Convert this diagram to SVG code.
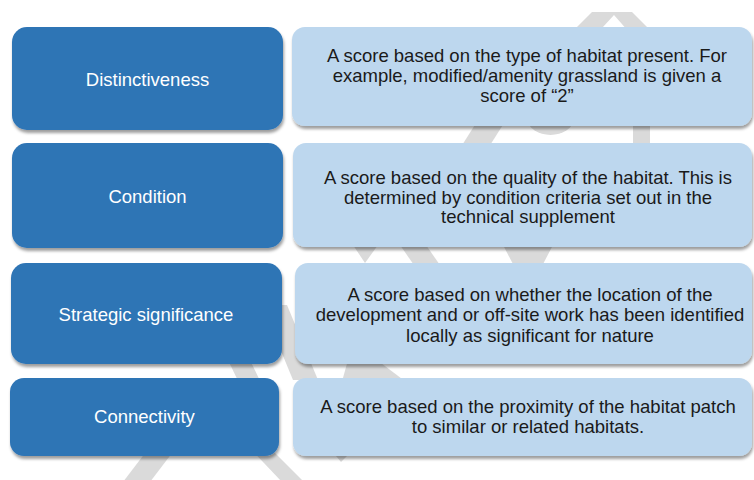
<svg xmlns="http://www.w3.org/2000/svg" width="754" height="480" viewBox="0 0 754 480">
  <defs>
    <filter id="sh" x="-5%" y="-10%" width="110%" height="130%">
      <feDropShadow dx="1" dy="3" stdDeviation="1.6" flood-color="#000" flood-opacity="0.38"/>
    </filter>
  </defs>
  <style>
    .wm { fill: #dadada; }
    .dark { fill: #2E74B5; filter: url(#sh); }
    .light { fill: #BDD7EE; filter: url(#sh); }
    .lbl { font-family: "Liberation Sans", Arial, sans-serif; font-size: 18.5px; fill: #ffffff; text-anchor: middle; }
    .desc { font-family: "Liberation Sans", Arial, sans-serif; font-size: 18.5px; fill: #1a1a1a; text-anchor: middle; }
  </style>
  <rect width="754" height="480" fill="#ffffff"/>
  <g id="watermark">
    <polygon class="wm" points="592,12 632,12 660,40 636,40 614,15 591,40 564,40"/>
    <polygon class="wm" points="478,120 506,120 487,150 459,150"/>
    <path class="wm" d="M528,120 A22.5,15 0 0 0 573,120 Z"/>
    <rect class="wm" x="633" y="120" width="17" height="30"/>
    <polygon class="wm" points="353,245 378,245 365,263"/>
    <polygon class="wm" points="400,245 426,245 442,268 416,268"/>
    <polygon class="wm" points="503,245 553,245 541,268 515,268"/>
    <polygon class="wm" points="348,360 377,360 410,385 341,385"/>
    <polygon class="wm" points="228,360 250,360 262,385 240,385"/>
    <polygon class="wm" points="262,305 287,305 318,380 293,380"/>
    <polygon class="wm" points="155,440 182,440 150,482 123,482"/>
    <polygon class="wm" points="242,440 262,440 304,482 282,482"/>
    <polygon class="wm" points="336,456 347,456 341,462"/>
  </g>
  <g id="connectors"></g>
  <g id="row1-label">
    <rect class="dark" x="12" y="27" width="271" height="103" rx="15"/>
    <text class="lbl" x="147.5" y="86">Distinctiveness</text>
  </g>
  <g id="row1-desc">
    <rect class="light" x="292" y="27" width="460" height="99" rx="13"/>
    <text class="desc" x="527" y="62">A score based on the type of habitat present. For</text>
    <text class="desc" x="527" y="82">example, modified/amenity grassland is given a</text>
    <text class="desc" x="527" y="102">score of “2”</text>
  </g>
  <g id="row2-label">
    <rect class="dark" x="12" y="143" width="271" height="105" rx="15"/>
    <text class="lbl" x="147.5" y="202.5">Condition</text>
  </g>
  <g id="row2-desc">
    <rect class="light" x="293" y="143" width="459" height="104" rx="13"/>
    <text class="desc" x="528" y="184">A score based on the quality of the habitat. This is</text>
    <text class="desc" x="528" y="204">determined by condition criteria set out in the</text>
    <text class="desc" x="528" y="223">technical supplement</text>
  </g>
  <g id="row3-label">
    <rect class="dark" x="11" y="263" width="271" height="101" rx="15"/>
    <text class="lbl" x="146" y="320.5">Strategic significance</text>
  </g>
  <g id="row3-desc">
    <rect class="light" x="295" y="263" width="457" height="101" rx="13"/>
    <text class="desc" x="530" y="300.5">A score based on whether the location of the</text>
    <text class="desc" x="530" y="321">development and or off-site work has been identified</text>
    <text class="desc" x="530" y="341.5">locally as significant for nature</text>
  </g>
  <g id="row4-label">
    <rect class="dark" x="10" y="378" width="269" height="78" rx="14"/>
    <text class="lbl" x="144.5" y="423">Connectivity</text>
  </g>
  <g id="row4-desc">
    <rect class="light" x="293" y="378" width="459" height="78" rx="13"/>
    <text class="desc" x="528" y="413">A score based on the proximity of the habitat patch</text>
    <text class="desc" x="528" y="433">to similar or related habitats.</text>
  </g>
</svg>
